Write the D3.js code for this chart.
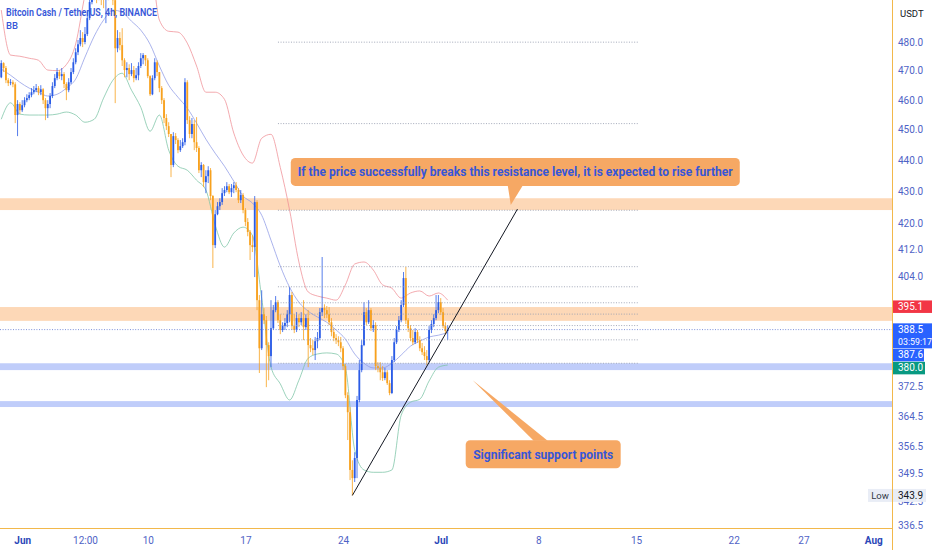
<!DOCTYPE html>
<html>
<head>
<meta charset="utf-8">
<script src="https://cdn.jsdelivr.net/npm/d3@7"></script>
<style>
  body { margin: 0; background: #fff; overflow: hidden; }
  svg { display: block; font-family: Roboto, "Noto Sans", sans-serif; }
</style>
</head>
<body>
<div id="chart"></div>
<script>
// ---- data (BCHUSDT, 4h bars) ----
const barStart = Date.UTC(2024, 4, 30, 12);   // first visible bar
const barMs = 4 * 3600 * 1000;
const firstOpen = 467.7;

const closes = [
  472.6, 470.9, 466.7, 465.7, 466.0, 465.3, 454.9, 458.6, 456.5, 458.2,
  459.9, 460.6, 461.6, 462.6, 463.3, 464.0, 462.6, 463.6, 459.9, 457.2,
  458.6, 461.3, 464.7, 467.4, 469.5, 468.1, 468.8, 465.4, 463.3, 466.0,
  469.5, 472.9, 476.4, 479.2, 481.4, 480.0, 482.8, 488.5, 494.3, 497.9,
  499.4, 496.8, 500.5, 498.7, 496.1, 497.9, 500.5, 498.7, 495.0, 477.8,
  481.4, 478.9, 473.6, 470.2, 470.9, 468.8, 470.2, 467.4, 468.4, 471.6,
  474.3, 475.4, 473.6, 468.1, 461.9, 467.4, 472.9, 469.5, 464.0, 459.9,
  453.9, 451.2, 448.6, 438.5, 447.9, 446.6, 443.3, 444.6, 445.9, 466.0,
  453.2, 448.6, 451.9, 445.9, 444.0, 436.8, 438.5, 433.0, 434.9, 436.8,
  428.6, 413.4, 422.9, 425.4, 426.7, 429.5, 430.5, 431.7, 429.8, 431.1,
  432.0, 430.5, 427.3, 428.9, 424.2, 420.5, 417.4, 413.4, 412.8, 426.7,
  397.0, 383.2, 392.9, 391.2, 384.1, 381.0, 388.9, 394.1, 396.4, 391.2,
  388.4, 389.5, 390.4, 392.9, 398.5, 389.5, 388.4, 391.8, 390.6, 391.8,
  389.2, 391.8, 384.1, 383.2, 382.7, 385.2, 386.1, 393.5, 394.7, 394.1,
  392.9, 390.6, 387.8, 386.1, 385.5, 384.9, 383.2, 378.2, 370.2, 365.6,
  350.4, 348.3, 353.5, 368.9, 377.1, 384.1, 393.5, 390.6, 394.1, 388.9,
  389.8, 378.2, 377.7, 376.5, 374.9, 376.5, 373.5, 370.8, 379.9, 384.9,
  388.4, 391.2, 395.6, 403.5, 391.2, 388.9, 386.1, 384.9, 387.8, 385.5,
  383.2, 382.1, 381.0, 379.9, 388.4, 390.1, 391.8, 394.1, 396.4, 393.5,
  389.5, 388.1, 388.5
];
const highs = [
  473.6, 472.9, 471.6, 467.4, 467.1, 466.7, 466.0, 459.9, 459.2, 459.9,
  460.9, 461.9, 462.6, 464.0, 464.7, 465.4, 464.7, 465.0, 464.0, 460.6,
  459.9, 462.3, 466.0, 468.8, 470.9, 470.2, 470.9, 469.5, 466.0, 467.4,
  470.9, 474.3, 477.8, 480.7, 484.2, 483.5, 485.3, 490.7, 496.8, 500.5,
  502.3, 502.3, 504.2, 504.2, 501.6, 502.3, 504.2, 503.1, 500.5, 496.8,
  484.2, 483.5, 484.9, 474.3, 472.9, 472.2, 472.6, 471.6, 470.9, 472.9,
  476.1, 476.1, 475.4, 474.3, 468.4, 468.4, 474.3, 473.6, 469.5, 464.7,
  460.6, 455.2, 452.5, 448.6, 449.2, 448.9, 447.2, 446.6, 447.2, 467.4,
  466.7, 454.5, 453.9, 453.2, 454.2, 444.6, 439.4, 438.8, 436.8, 438.1,
  437.5, 428.9, 424.2, 426.7, 427.9, 431.1, 431.7, 433.0, 432.4, 432.4,
  433.0, 433.0, 431.1, 430.5, 429.5, 424.8, 421.7, 418.0, 416.4, 428.6,
  427.3, 398.5, 399.9, 394.7, 392.4, 384.9, 397.0, 395.6, 398.2, 397.0,
  392.9, 390.6, 391.8, 394.1, 400.8, 399.4, 392.9, 393.5, 392.9, 393.5,
  397.0, 392.9, 394.1, 386.1, 385.5, 386.4, 387.8, 394.7, 409.8, 395.8,
  395.3, 395.0, 391.8, 388.9, 387.2, 386.6, 386.4, 383.8, 378.8, 371.0,
  367.0, 352.9, 355.0, 370.0, 379.9, 385.5, 396.4, 394.7, 397.0, 394.7,
  391.2, 390.6, 379.3, 379.3, 378.2, 377.7, 377.1, 374.3, 381.0, 386.1,
  389.5, 392.4, 397.0, 405.3, 406.8, 391.8, 389.8, 388.4, 388.9, 388.4,
  386.6, 384.7, 383.8, 382.7, 389.5, 391.2, 392.9, 398.5, 398.5, 397.6,
  394.7, 390.6, 389.8
];
const lows = [
  467.4, 469.5, 465.7, 464.7, 465.0, 464.3, 452.2, 447.9, 455.2, 455.9,
  457.5, 459.2, 459.9, 460.9, 461.9, 462.6, 461.6, 461.6, 458.6, 453.2,
  453.9, 457.2, 460.6, 464.0, 466.7, 467.1, 466.7, 464.0, 459.9, 462.6,
  465.4, 468.8, 472.2, 475.4, 478.5, 478.2, 479.2, 482.1, 487.8, 493.5,
  495.0, 493.9, 495.0, 493.2, 492.1, 486.7, 495.0, 495.7, 493.2, 458.9,
  476.4, 477.1, 471.6, 467.7, 467.7, 466.7, 468.1, 466.0, 466.7, 466.7,
  470.9, 472.2, 471.6, 467.4, 461.3, 461.6, 466.7, 468.1, 462.6, 458.6,
  452.2, 449.9, 447.6, 434.6, 437.8, 445.3, 442.3, 442.7, 444.0, 444.9,
  451.9, 447.2, 447.2, 443.3, 442.7, 435.9, 434.6, 431.4, 429.5, 432.7,
  427.3, 406.5, 412.5, 422.6, 424.2, 425.8, 428.6, 429.8, 429.2, 428.3,
  429.5, 429.8, 426.4, 426.4, 423.2, 419.2, 416.1, 408.9, 411.3, 403.8,
  394.1, 376.3, 382.7, 390.1, 372.4, 374.3, 377.9, 388.4, 393.5, 390.4,
  387.2, 387.8, 388.4, 389.2, 390.6, 388.4, 387.5, 387.8, 389.2, 389.8,
  385.5, 388.4, 377.9, 382.1, 381.3, 379.9, 383.2, 385.5, 392.4, 391.8,
  391.8, 389.8, 386.6, 385.2, 384.4, 383.8, 382.1, 377.1, 369.4, 358.2,
  347.8, 343.9, 347.3, 348.3, 368.3, 376.5, 383.8, 389.8, 390.1, 388.1,
  387.8, 377.1, 376.5, 374.3, 374.1, 374.3, 373.0, 370.2, 370.5, 379.3,
  384.4, 387.8, 390.6, 395.0, 390.1, 387.8, 385.2, 384.1, 384.4, 384.7,
  382.4, 381.3, 379.9, 378.5, 379.3, 387.5, 389.2, 391.2, 393.2, 392.7,
  388.9, 387.2, 385.5
];

// Bollinger Bands read every 4th bar
const bbStep = 4;
const bbUpper = [
  491.4, 475.4, 475.0, 474.3, 473.6, 470.2, 470.0, 472.1, 479.3, 496.9,
  510.7, 515.0, 516.1, 512.1, 511.5, 510.9, 508.9, 487.8, 483.8, 483.5,
  479.6, 471.6, 462.6, 462.6, 460.2, 448.9, 441.7, 439.1, 447.2, 448.5,
  437.7, 424.2, 408.3, 399.4, 398.2, 397.6, 397.0, 401.5, 407.7, 408.3,
  405.9, 401.5, 400.5, 397.6, 399.1, 399.7, 398.2, 399.1, 397.0
];
const bbMiddle = [
  470.5, 468.4, 466.0, 464.0, 462.6, 461.3, 461.9, 464.0, 467.1, 474.7,
  482.1, 487.8, 491.4, 490.6, 487.4, 484.2, 479.2, 471.6, 465.0, 460.9,
  457.2, 452.2, 446.9, 442.3, 438.1, 433.3, 428.6, 426.4, 422.6, 414.9,
  407.1, 400.8, 396.4, 393.8, 392.1, 390.6, 388.4, 385.8, 381.6, 379.0,
  377.7, 377.7, 379.0, 381.3, 383.8, 385.2, 386.4, 386.9, 387.6
];
const bbLower = [
  453.5, 459.0, 455.2, 454.9, 454.9, 454.9, 455.2, 455.9, 454.9, 452.5,
  453.5, 460.6, 466.7, 469.1, 463.3, 457.5, 449.5, 454.9, 443.3, 438.1,
  436.8, 433.6, 430.5, 419.5, 412.8, 417.1, 418.9, 416.4, 397.6, 378.0,
  373.3, 368.9, 374.3, 380.4, 381.6, 381.9, 381.6, 377.7, 355.6, 350.4,
  349.8, 349.8, 350.4, 364.8, 368.3, 369.1, 374.1, 377.9, 378.5
];

// drawings
const resistanceZones = [[424.2, 427.9], [391.0, 395.0]];
const supportZones = [[377.1, 379.0], [367.0, 368.6]];
const fibFrom = 379.0, fibTo = 406.9;
const fibRatios = [0, 0.236, 0.382, 0.5, 0.618, 0.786, 1, 1.618, 2.618, 3.618, 4.236];
const fibSpan = ["2024-06-19T08:00Z", "2024-07-15T04:00Z"];
const trendTimes = ["2024-06-24T16:00Z", "2024-07-06T12:00Z"];
const trendPrices = [343.9, 424.5];

const calloutTexts = [
  "If the price successfully breaks this resistance level, it is expected to rise further",
  "Significant support points"
];
const calloutTimes = ["2024-07-06T00:30Z", "2024-07-03T07:00Z"];
const calloutPrices = [425.8, 374.3];

// axes
const priceTicks = [480, 470, 460, 450, 440, 430, 420, 412, 404, 372.5, 364.5, 356.5, 349.5, 342.5, 336.5];
const timeTickDates = ["2024-06-01T00:00Z", "2024-06-05T12:00Z", "2024-06-10T00:00Z", "2024-06-17T00:00Z",
  "2024-06-24T00:00Z", "2024-07-01T00:00Z", "2024-07-08T00:00Z", "2024-07-15T00:00Z",
  "2024-07-22T00:00Z", "2024-07-27T00:00Z", "2024-08-01T00:00Z"];
const timeTickLabels = ["Jun", "12:00", "10", "17", "24", "Jul", "8", "15", "22", "27", "Aug"];
const monthLabels = ["Jun", "Jul", "Aug"];

const axisMarks = [395.1, 388.5, 387.6, 380.0];
const countdown = "03:59:17";
const lowValue = 343.9;

// ---- layout ----
const W = 932, H = 550;
const plotW = 892, plotH = 528;
const upColor = "#2b5ce6", downColor = "#f7a11e";
const textBlue = "#3656d8", axisText = "#4f63c6", axisLine = "#f2b84b";

const svg = d3.select("#chart").append("svg")
  .attr("width", W).attr("height", H);

svg.append("defs").append("clipPath").attr("id", "plotClip")
  .append("rect").attr("width", plotW).attr("height", plotH);

const x = d3.scaleUtc()
  .domain([Date.UTC(2024, 5, 1), Date.UTC(2024, 7, 1)])
  .range([22.2, 873.2]);
const y = d3.scaleLog()
  .domain([480, 336.5])
  .range([42, 525]);

const plot = svg.append("g").attr("clip-path", "url(#plotClip)");

// zones (full width)
const zoneG = plot.append("g");
resistanceZones.forEach(([lo, hi]) => {
  zoneG.append("rect")
    .attr("x", 0).attr("width", plotW)
    .attr("y", y(hi)).attr("height", y(lo) - y(hi))
    .attr("fill", "#f87d12").attr("fill-opacity", 0.3);
});
supportZones.forEach(([lo, hi]) => {
  zoneG.append("rect")
    .attr("x", 0).attr("width", plotW)
    .attr("y", y(hi)).attr("height", y(lo) - y(hi))
    .attr("fill", "#2d58ee").attr("fill-opacity", 0.3);
});

// Bollinger bands
const bbLine = d3.line()
  .x((d, i) => x(new Date(barStart + i * bbStep * barMs)))
  .y(d => y(d))
  .curve(d3.curveMonotoneX);
[[bbUpper, "#ef8f96"], [bbMiddle, "#8f9be6"], [bbLower, "#7cc4a5"]].forEach(([vals, col]) => {
  plot.append("path")
    .attr("d", bbLine(vals))
    .attr("fill", "none")
    .attr("stroke", col)
    .attr("stroke-width", 0.9)
    .attr("stroke-opacity", 0.85);
});

// candles
const bars = closes.map((c, i) => {
  const o = i ? closes[i - 1] : firstOpen;
  return {
    t: new Date(barStart + i * barMs), o, c,
    h: Math.max(highs[i], o, c), l: Math.min(lows[i], o, c)
  };
});
const candleG = plot.append("g");
candleG.selectAll(".wick").data(bars).join("line")
  .attr("class", "wick")
  .attr("x1", d => x(d.t)).attr("x2", d => x(d.t))
  .attr("y1", d => y(d.h)).attr("y2", d => y(d.l))
  .attr("stroke", d => d.c >= d.o ? upColor : downColor)
  .attr("stroke-width", 0.8);
candleG.selectAll(".body").data(bars).join("rect")
  .attr("class", "body")
  .attr("x", d => x(d.t) - 0.9).attr("width", 1.8)
  .attr("y", d => y(Math.max(d.o, d.c)))
  .attr("height", d => Math.max(0.8, Math.abs(y(d.o) - y(d.c))))
  .attr("fill", d => d.c >= d.o ? upColor : downColor);

// fib levels
const fx0 = x(new Date(fibSpan[0])), fx1 = x(new Date(fibSpan[1]));
plot.append("g").selectAll("line").data(fibRatios).join("line")
  .attr("x1", fx0).attr("x2", fx1)
  .attr("y1", r => y(fibFrom + r * (fibTo - fibFrom)))
  .attr("y2", r => y(fibFrom + r * (fibTo - fibFrom)))
  .attr("stroke", "#9aa0b2")
  .attr("stroke-width", 0.9)
  .attr("stroke-dasharray", "1,1.6");

// last price line
const lastPrice = closes[closes.length - 1];
plot.append("line")
  .attr("x1", 0).attr("x2", plotW)
  .attr("y1", y(lastPrice)).attr("y2", y(lastPrice))
  .attr("stroke", "#6f86d6")
  .attr("stroke-width", 0.9)
  .attr("stroke-dasharray", "1,1.6");

// trend line
plot.append("line")
  .attr("x1", x(new Date(trendTimes[0]))).attr("y1", y(trendPrices[0]))
  .attr("x2", x(new Date(trendTimes[1]))).attr("y2", y(trendPrices[1]))
  .attr("stroke", "#131722").attr("stroke-width", 1);

// callouts
const calloutFill = "#f6a864";
function callout(tx, ty, box, tail, text, fontSize, textLen, above) {
  const g = plot.append("g");
  const bx = tx + box[0], by = ty + box[1];
  g.append("rect")
    .attr("x", bx).attr("y", by)
    .attr("width", box[2]).attr("height", box[3])
    .attr("rx", 4.5)
    .attr("fill", calloutFill);
  const edge = above ? by + box[3] - 0.5 : by + 0.5;
  g.append("polygon")
    .attr("points", [[tx + tail[0], edge], [tx + tail[1], edge], [tx, ty]].map(p => p.join(",")).join(" "))
    .attr("fill", calloutFill);
  g.append("text")
    .attr("x", bx + box[2] / 2).attr("y", by + box[3] / 2 + fontSize * 0.36)
    .attr("text-anchor", "middle")
    .attr("font-size", fontSize).attr("font-weight", 700)
    .attr("fill", textBlue)
    .attr("textLength", textLen).attr("lengthAdjust", "spacingAndGlyphs")
    .text(text);
}
callout(x(new Date(calloutTimes[0])), y(calloutPrices[0]),
  [-220, -47, 449, 28], [-3, 12], calloutTexts[0], 12, 435, true);
callout(x(new Date(calloutTimes[1])), y(calloutPrices[1]),
  [-7, 60, 155, 28], [61, 75], calloutTexts[1], 12.5, 140, false);

// legend
svg.append("text")
  .attr("x", 6).attr("y", 16)
  .attr("font-size", 10).attr("font-weight", 600)
  .attr("fill", textBlue)
  .attr("textLength", 151).attr("lengthAdjust", "spacingAndGlyphs")
  .text("Bitcoin Cash / TetherUS, 4h, BINANCE");
svg.append("text")
  .attr("x", 6).attr("y", 29)
  .attr("font-size", 9.5).attr("font-weight", 500)
  .attr("fill", textBlue)
  .text("BB");

// price axis
const yAxisG = svg.append("g")
  .attr("transform", `translate(${plotW + 1},0)`)
  .call(d3.axisRight(y).tickValues(priceTicks).tickFormat(d3.format(".1f")).tickSize(0).tickPadding(5));
yAxisG.select(".domain").remove();
yAxisG.selectAll("text")
  .attr("font-size", 10)
  .attr("font-family", "Roboto, sans-serif")
  .attr("fill", axisText);

// time axis
const xAxisG = svg.append("g")
  .attr("transform", `translate(0,${plotH})`)
  .call(d3.axisBottom(x)
    .tickValues(timeTickDates.map(d => new Date(d)))
    .tickFormat((d, i) => timeTickLabels[i])
    .tickSize(0).tickPadding(9));
xAxisG.select(".domain").remove();
xAxisG.selectAll("text")
  .attr("font-size", 10)
  .attr("font-family", "Roboto, sans-serif")
  .attr("font-weight", (d, i) => monthLabels.includes(timeTickLabels[i]) ? 700 : 400)
  .attr("fill", (d, i) => monthLabels.includes(timeTickLabels[i]) ? "#2c47b8" : axisText);

// axis borders
svg.append("line")
  .attr("x1", 0).attr("x2", plotW + 0.5)
  .attr("y1", plotH + 0.5).attr("y2", plotH + 0.5)
  .attr("stroke", axisLine).attr("stroke-width", 1);
svg.append("line")
  .attr("x1", plotW + 0.5).attr("x2", plotW + 0.5)
  .attr("y1", 0).attr("y2", H)
  .attr("stroke", axisLine).attr("stroke-width", 1);

svg.append("text")
  .attr("x", 900).attr("y", 17)
  .attr("font-size", 9.5).attr("fill", "#131722")
  .text("USDT");

// price labels on the axis, stacked so they don't overlap
const markStyles = [
  { fill: "#f23645", w: 39, lines: [d3.format(".1f")(axisMarks[0])] },
  { fill: "#2962ff", w: 40, lines: [d3.format(".1f")(axisMarks[1]), countdown] },
  { fill: "#2962ff", w: 31, lines: [d3.format(".1f")(axisMarks[2])] },
  { fill: "#089981", w: 32, lines: [d3.format(".1f")(axisMarks[3])] }
];
const lineH = 12.5;
let prevBottom = -Infinity;
axisMarks.forEach((p, i) => {
  const st = markStyles[i];
  let top = y(p) - lineH / 2;
  if (top < prevBottom + 0.5) top = prevBottom + 0.5;
  const h = lineH * st.lines.length;
  prevBottom = top + h;
  svg.append("rect")
    .attr("x", plotW + 1).attr("y", top)
    .attr("width", st.w).attr("height", h)
    .attr("fill", st.fill);
  st.lines.forEach((t, k) => {
    svg.append("text")
      .attr("x", plotW + 6).attr("y", top + lineH * k + 9.6)
      .attr("font-size", k ? 8.8 : 10).attr("fill", "#fff")
      .text(t);
  });
});

// session low label
const lowY = y(lowValue);
svg.append("rect")
  .attr("x", 868).attr("y", lowY - 6.5).attr("width", 24).attr("height", 13)
  .attr("fill", "#e9edf6");
svg.append("text")
  .attr("x", 880).attr("y", lowY + 3.5).attr("text-anchor", "middle")
  .attr("font-size", 9.5).attr("fill", "#333a48")
  .text("Low");
svg.append("rect")
  .attr("x", plotW + 1).attr("y", lowY - 6.5).attr("width", 33).attr("height", 13)
  .attr("fill", "#e9edf6");
svg.append("text")
  .attr("x", plotW + 6).attr("y", lowY + 3.5)
  .attr("font-size", 10).attr("fill", "#131722")
  .text(d3.format(".1f")(lowValue));
</script>
</body>
</html>
